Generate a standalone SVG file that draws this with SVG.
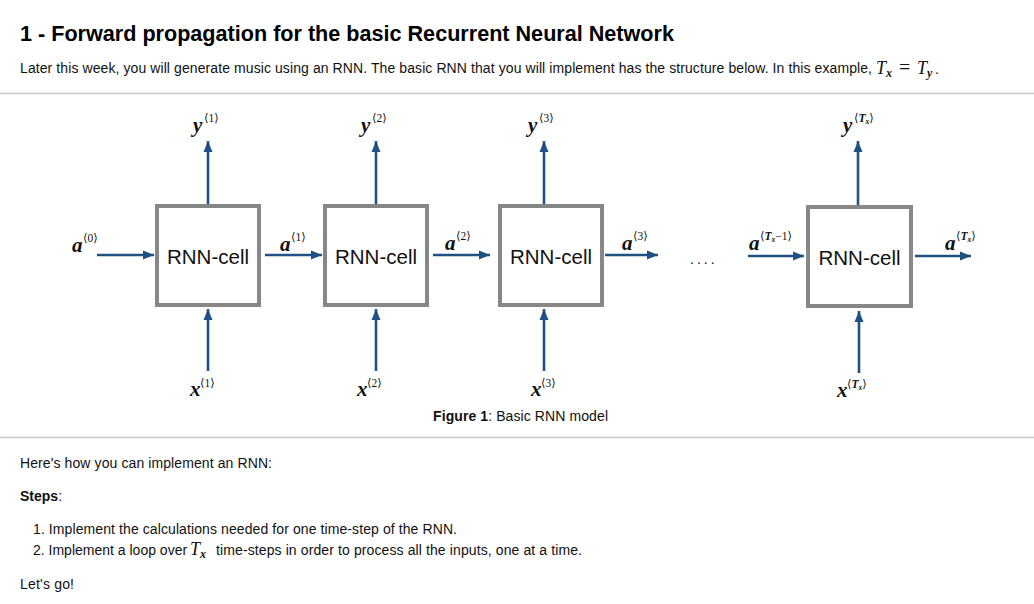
<svg xmlns="http://www.w3.org/2000/svg" width="1034" height="604" viewBox="0 0 1034 604">
<style>
.t{font-family:"Liberation Sans",Arial,sans-serif;fill:#000}
.body{font-family:"Liberation Sans",Arial,sans-serif;font-size:14px;fill:#111}
.b{font-weight:bold}
.box{fill:#fff;stroke:#878787;stroke-width:4}
.cell{font-family:"Liberation Sans",Arial,sans-serif;font-size:20.5px;fill:#111;text-anchor:middle}
.m{font-family:"Liberation Serif","Times New Roman",serif;font-style:italic;font-weight:bold;font-size:21px;fill:#111}
.s{font-family:"Liberation Serif","DejaVu Serif",serif;font-size:11.5px;fill:#111}
.si{font-style:italic;font-weight:bold}
.mt{font-family:"Liberation Serif","Times New Roman",serif;font-style:italic;font-size:18px;fill:#111}
.arr{stroke:#1f5283;stroke-width:2.6;fill:none}
.rule{stroke:#c6c6c6;stroke-width:1.3}
</style>
<defs>
<marker id="ah" markerUnits="userSpaceOnUse" markerWidth="12" markerHeight="10" refX="11" refY="5" orient="auto">
<path d="M0,0.5 L11,5 L0,9.5 z" fill="#1f5283"/>
</marker>
</defs>

<g id="header">
<text class="t b" x="20" y="41" font-size="21.6">1 - Forward propagation for the basic Recurrent Neural Network</text>
<text class="body" x="20" y="73" textLength="852" lengthAdjust="spacing">Later this week, you will generate music using an RNN. The basic RNN that you will implement has the structure below. In this example,</text>
<text class="mt" x="876" y="74">T<tspan font-size="12" dy="3" font-weight="bold">x</tspan></text>
<text x="899" y="74" font-size="20" font-family="Liberation Serif" fill="#111">=</text>
<text class="mt" x="917" y="74">T<tspan font-size="12" dy="3" font-weight="bold">y</tspan></text>
<text class="body" x="935" y="74">.</text>
<line class="rule" x1="0" y1="93.5" x2="1034" y2="93.5"/>
</g>

<g id="connectors">
<line class="arr" x1="97" y1="255" x2="154" y2="255" marker-end="url(#ah)"/>
<line class="arr" x1="265" y1="255" x2="322" y2="255" marker-end="url(#ah)"/>
<line class="arr" x1="433" y1="255" x2="490" y2="255" marker-end="url(#ah)"/>
<line class="arr" x1="605" y1="255" x2="658" y2="255" marker-end="url(#ah)"/>
<line class="arr" x1="748" y1="256" x2="804" y2="256" marker-end="url(#ah)"/>
<line class="arr" x1="915" y1="256" x2="971" y2="256" marker-end="url(#ah)"/>
<line class="arr" x1="208" y1="204" x2="208" y2="141" marker-end="url(#ah)"/>
<line class="arr" x1="376" y1="204" x2="376" y2="141" marker-end="url(#ah)"/>
<line class="arr" x1="544" y1="204" x2="544" y2="141" marker-end="url(#ah)"/>
<line class="arr" x1="858" y1="205" x2="858" y2="141" marker-end="url(#ah)"/>
<line class="arr" x1="208" y1="371" x2="208" y2="309" marker-end="url(#ah)"/>
<line class="arr" x1="376" y1="371" x2="376" y2="309" marker-end="url(#ah)"/>
<line class="arr" x1="544" y1="371" x2="544" y2="309" marker-end="url(#ah)"/>
<line class="arr" x1="859" y1="373" x2="859" y2="311" marker-end="url(#ah)"/>
</g>

<g id="cell1"><rect class="box" x="157" y="206" width="102" height="99"/><text class="cell" x="208" y="264">RNN-cell</text></g>
<g id="cell2"><rect class="box" x="325" y="206" width="102" height="99"/><text class="cell" x="376" y="264">RNN-cell</text></g>
<g id="cell3"><rect class="box" x="500" y="206" width="102" height="99"/><text class="cell" x="551" y="264">RNN-cell</text></g>
<g id="cellT"><rect class="box" x="808" y="207" width="103" height="99"/><text class="cell" x="859.5" y="265">RNN-cell</text></g>

<g id="labels-a">
<text class="m" x="72" y="252">a</text><text class="s" x="83" y="242">⟨0⟩</text>
<text class="m" x="280" y="251">a</text><text class="s" x="291" y="241">⟨1⟩</text>
<text class="m" x="445" y="250">a</text><text class="s" x="456" y="240">⟨2⟩</text>
<text class="m" x="622" y="250">a</text><text class="s" x="633" y="240">⟨3⟩</text>
<text class="m" x="749" y="250">a</text><text class="s" x="760" y="240">⟨<tspan class="si">T</tspan><tspan font-size="7.5" dy="2" class="si">x</tspan><tspan dy="-2">−1⟩</tspan></text>
<text class="m" x="945" y="250">a</text><text class="s" x="956" y="240">⟨<tspan class="si">T</tspan><tspan font-size="7.5" dy="2" class="si">x</tspan><tspan dy="-2">⟩</tspan></text>
</g>
<g id="labels-y">
<text class="m" x="193" y="132">y</text><text class="s" x="204" y="122">⟨1⟩</text>
<text class="m" x="361" y="132">y</text><text class="s" x="372" y="122">⟨2⟩</text>
<text class="m" x="528" y="132">y</text><text class="s" x="539" y="122">⟨3⟩</text>
<text class="m" x="843" y="132">y</text><text class="s" x="854" y="122">⟨<tspan class="si">T</tspan><tspan font-size="7.5" dy="2" class="si">x</tspan><tspan dy="-2">⟩</tspan></text>
</g>
<g id="labels-x">
<text class="m" x="190" y="396">x</text><text class="s" x="200" y="387">⟨1⟩</text>
<text class="m" x="357" y="396">x</text><text class="s" x="367" y="387">⟨2⟩</text>
<text class="m" x="531" y="396">x</text><text class="s" x="541" y="387">⟨3⟩</text>
<text class="m" x="837" y="397">x</text><text class="s" x="847" y="388">⟨<tspan class="si">T</tspan><tspan font-size="7.5" dy="2" class="si">x</tspan><tspan dy="-2">⟩</tspan></text>
</g>
<text class="body" x="690" y="264" fill="#333" font-size="14" letter-spacing="3">....</text>

<g id="caption">
<text class="body" x="433" y="421" textLength="175" lengthAdjust="spacing"><tspan class="b">Figure 1</tspan>: Basic RNN model</text>
<line class="rule" x1="0" y1="437.5" x2="1034" y2="437.5"/>
</g>

<g id="text-below">
<text class="body" x="20" y="468" textLength="252" lengthAdjust="spacing">Here's how you can implement an RNN:</text>
<text class="body" x="20" y="501"><tspan class="b">Steps</tspan>:</text>
<text class="body" x="33" y="534" textLength="424" lengthAdjust="spacing">1. Implement the calculations needed for one time-step of the RNN.</text>
<text class="body" x="33" y="555">2. Implement a loop over</text>
<text class="mt" x="190" y="555">T<tspan font-size="12" dy="3" font-weight="bold">x</tspan></text>
<text class="body" x="216" y="555" textLength="366" lengthAdjust="spacing">time-steps in order to process all the inputs, one at a time.</text>
<text class="body" x="20" y="589" textLength="54" lengthAdjust="spacing">Let's go!</text>
</g>
</svg>
